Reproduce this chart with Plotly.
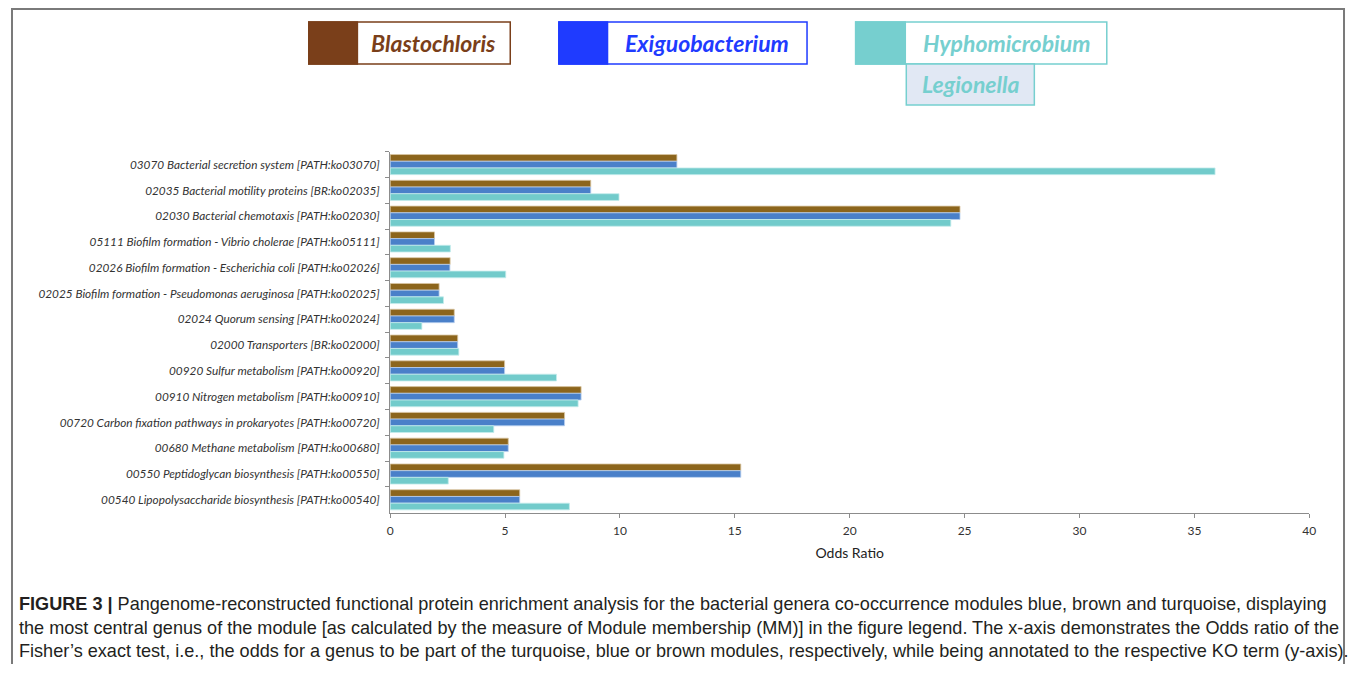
import plotly.graph_objects as go

# page body has an 8px default margin on every side; size the figure so the page never scrolls
OFF = 8
W, H = 1360 - 2 * OFF, 673 - 2 * OFF - 1

categories = [
    "03070 Bacterial secretion system [PATH:ko03070]",
    "02035 Bacterial motility proteins [BR:ko02035]",
    "02030 Bacterial chemotaxis [PATH:ko02030]",
    "05111 Biofilm formation - Vibrio cholerae [PATH:ko05111]",
    "02026 Biofilm formation - Escherichia coli [PATH:ko02026]",
    "02025 Biofilm formation - Pseudomonas aeruginosa [PATH:ko02025]",
    "02024 Quorum sensing [PATH:ko02024]",
    "02000 Transporters [BR:ko02000]",
    "00920 Sulfur metabolism [PATH:ko00920]",
    "00910 Nitrogen metabolism [PATH:ko00910]",
    "00720 Carbon fixation pathways in prokaryotes [PATH:ko00720]",
    "00680 Methane metabolism [PATH:ko00680]",
    "00550 Peptidoglycan biosynthesis [PATH:ko00550]",
    "00540 Lipopolysaccharide biosynthesis [PATH:ko00540]",
]

brown_values = [12.48, 8.73, 24.8, 1.93, 2.61, 2.13, 2.79, 2.94, 4.98, 8.31, 7.59, 5.14, 15.26, 5.64]
blue_values = [12.48, 8.73, 24.8, 1.93, 2.60, 2.13, 2.79, 2.94, 4.98, 8.31, 7.59, 5.14, 15.26, 5.64]
turquoise_values = [35.9, 9.96, 24.4, 2.62, 5.03, 2.32, 1.38, 2.99, 7.24, 8.18, 4.51, 4.95, 2.53, 7.80]

series_names = ["brown", "blue", "turquoise"]
bar_colors = ["#8C651C", "#4A80C9", "#72CBCB"]
bar_edges = ["#D9C6A3", "#B9CFEF", "#C4ECEC"]

legend_labels = ["Blastochloris", "Exiguobacterium", "Hyphomicrobium", "Legionella"]
legend_colors = ["#7A3F1A", "#1F3BFF", "#76CFCF", "#76CFCF"]

x_tick_values = [0, 5, 10, 15, 20, 25, 30, 35, 40]

caption_lines = [
    "<b>FIGURE 3 |</b> Pangenome-reconstructed functional protein enrichment analysis for the bacterial genera co-occurrence modules blue, brown and turquoise, displaying",
    "the most central genus of the module [as calculated by the measure of Module membership (MM)] in the figure legend. The x-axis demonstrates the Odds ratio of the",
    "Fisher’s exact test, i.e., the odds for a genus to be part of the turquoise, blue or brown modules, respectively, while being annotated to the respective KO term (y-axis).",
]


def px(x):
    return (x - OFF) / W


def py(y):
    return 1 - (y - OFF) / H


fig = go.Figure()
for name, vals, col, edge in zip(series_names, [brown_values, blue_values, turquoise_values], bar_colors, bar_edges):
    fig.add_trace(go.Bar(
        y=categories, x=vals, orientation="h", name=name,
        marker=dict(color=col, line=dict(color=edge, width=0.8)),
        showlegend=False,
    ))

fig.update_layout(
    width=W, height=H,
    margin=dict(l=0, r=0, t=0, b=0),
    paper_bgcolor="white", plot_bgcolor="white",
    barmode="group", bargap=0.22, bargroupgap=0.0,
    xaxis=dict(
        domain=[px(390), px(1316)], range=[0, 40],
        tickvals=x_tick_values, ticks="outside", ticklen=4, tickcolor="#8C8C8C",
        showline=True, linecolor="#8C8C8C", linewidth=1,
        showgrid=False, zeroline=False, ticklabelstandoff=3,
        tickfont=dict(family="Lato, sans-serif", size=12, color="#333333"),
        title=dict(text="Odds Ratio", font=dict(family="Lato, sans-serif", size=14, color="#222222"), standoff=11),
    ),
    yaxis=dict(
        domain=[py(512.7), py(151.7)],
        type="category", categoryorder="array", categoryarray=categories,
        autorange="reversed",
        ticks="outside", ticklen=4, tickcolor="#8C8C8C", tickson="boundaries",
        showline=True, linecolor="#8C8C8C", linewidth=1,
        showgrid=False, zeroline=False,
        ticklabelstandoff=7,
        tickfont=dict(family="Lato, sans-serif", size=11.8, color="#333333", style="italic"),
    ),
)

shapes = []
annotations = []

# figure frame (open at bottom)
shapes.append(dict(
    type="path", xref="paper", yref="paper",
    path=f"M {px(9)} {py(673)} L {px(9)} {py(9)} L {px(1351)} {py(9)} L {px(1351)} {py(673)}",
    line=dict(color="#7A7A7A", width=2),
))

# custom legend boxes
boxes = [
    (308, 511, 22, 64, 357),
    (560, 810, 22, 64, 609),
    (859, 1112, 22, 64, 909),
]
for (x0, x1, y0, y1, sq), lab, col in zip(boxes, legend_labels[:3], legend_colors[:3]):
    shapes.append(dict(type="rect", xref="paper", yref="paper",
                       x0=px(x0), x1=px(sq), y0=py(y1), y1=py(y0),
                       fillcolor=col, line=dict(color=col, width=1.5)))
    shapes.append(dict(type="rect", xref="paper", yref="paper",
                       x0=px(x0), x1=px(x1), y0=py(y1), y1=py(y0),
                       fillcolor="rgba(0,0,0,0)", line=dict(color=col, width=1.5)))
    annotations.append(dict(
        xref="paper", yref="paper", x=px((sq + x1) / 2), y=py((y0 + y1) / 2),
        text=f"<b><i>{lab}</i></b>", showarrow=False, xanchor="center", yanchor="middle",
        font=dict(family="Lato, sans-serif", size=23, color=col),
    ))

# Legionella box
shapes.append(dict(type="rect", xref="paper", yref="paper",
                   x0=px(910), x1=px(1039), y0=py(105), y1=py(64),
                   fillcolor="#E1E8F4", line=dict(color=legend_colors[3], width=1.5)))
annotations.append(dict(
    xref="paper", yref="paper", x=px(974.5), y=py(84.5),
    text=f"<b><i>{legend_labels[3]}</i></b>", showarrow=False, xanchor="center", yanchor="middle",
    font=dict(family="Lato, sans-serif", size=23, color=legend_colors[3]),
))

# caption
for i, line in enumerate(caption_lines):
    annotations.append(dict(
        xref="paper", yref="paper", x=px(14), y=py(604 + i * 23.5),
        text=line, showarrow=False, xanchor="left", yanchor="middle",
        font=dict(family="Liberation Sans, Arial, sans-serif", size=18.1, color="#231F20"),
    ))

fig.update_layout(shapes=shapes, annotations=annotations)

fig.write_html("out.html")
